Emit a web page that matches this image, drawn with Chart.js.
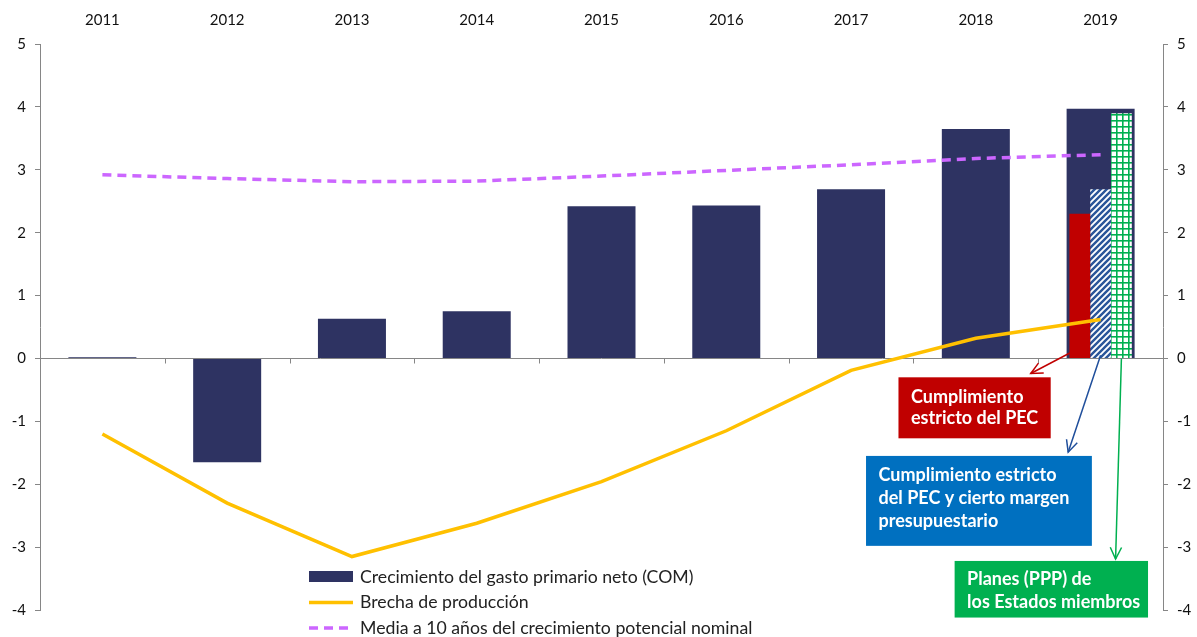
<!DOCTYPE html>
<html><head><meta charset="utf-8">
<script src="https://cdn.jsdelivr.net/npm/chart.js@4.4.1/dist/chart.umd.min.js"></script>
<style>html,body{margin:0;padding:0;background:#fff}</style>
</head><body>
<canvas id="c" width="1197" height="637"></canvas>
<script>
// ---- data ----
const years = ['2011','2012','2013','2014','2015','2016','2017','2018','2019'];
const gastoCOM = [0.02, -1.65, 0.63, 0.75, 2.42, 2.43, 2.69, 3.65, 3.97];
const brechaProduccion = [-1.2, -2.3, -3.15, -2.62, -1.96, -1.15, -0.19, 0.32, 0.62];
const mediaPotencial = [2.92, 2.86, 2.81, 2.82, 2.90, 2.99, 3.08, 3.18, 3.24];
const pecEstricto = [null, null, null, null, null, null, null, null, 2.30];
const pecMargen = [null, null, null, null, null, null, null, null, 2.69];
const planesPPP = [null, null, null, null, null, null, null, null, 3.90];
const yMin = -4, yMax = 5, yStep = 1;

const labelsLegend = ['Crecimiento del gasto primario neto (COM)', 'Brecha de producción', 'Media a 10 años del crecimiento potencial nominal'];
const boxTexts = [
  ['Cumplimiento', 'estricto del PEC'],
  ['Cumplimiento estricto', 'del PEC y cierto margen', 'presupuestario'],
  ['Planes (PPP) de', 'los Estados miembros']
];

// ---- styles ----
const FONT = 'Lato, "Open Sans", sans-serif';
const NAVY = '#2E3362', YELLOW = '#FFC000', PINK = '#CC66FF', RED = '#C00000', BLUE = '#0070C0', GREEN = '#00B050', AXIS = '#868686';

const canvas = document.getElementById('c');
const ctx0 = canvas.getContext('2d');
function hatchPattern() {
  const c = document.createElement('canvas'); c.width = 6; c.height = 6;
  const g = c.getContext('2d');
  g.fillStyle = '#fff'; g.fillRect(0, 0, 6, 6);
  g.strokeStyle = '#2A5599'; g.lineWidth = 2.4;
  g.beginPath();
  g.moveTo(-1, 7); g.lineTo(7, -1);
  g.moveTo(-4, 4); g.lineTo(4, -4);
  g.moveTo(2, 10); g.lineTo(10, 2);
  g.stroke();
  return ctx0.createPattern(c, 'repeat');
}
function gridPattern() {
  const c = document.createElement('canvas'); c.width = 6; c.height = 6;
  const g = c.getContext('2d');
  g.fillStyle = '#fff'; g.fillRect(0, 0, 6, 6);
  g.fillStyle = GREEN;
  g.fillRect(0, 0, 6, 1.6);
  g.fillRect(0, 0, 1.6, 6);
  return ctx0.createPattern(c, 'repeat');
}

// annotation boxes in data units (x: category index, y: value)
const boxes = [
  {x0: 6.38, x1: 7.60, y0: -0.30, y1: -1.27, color: RED, tx: 6.48, ty: [-0.61, -0.95]},
  {x0: 6.12, x1: 7.93, y0: -1.55, y1: -2.98, color: BLUE, tx: 6.22, ty: [-1.86, -2.22, -2.58]},
  {x0: 6.83, x1: 8.38, y0: -3.22, y1: -4.12, color: GREEN, tx: 6.93, ty: [-3.51, -3.87]}
];
const arrows = [
  {ds: 3, y0: 0.17, x1: 7.44, y1: -0.24, color: RED},
  {ds: 4, y0: 0.05, x1: 7.74, y1: -1.49, color: '#1F4E9B'},
  {ds: 5, y0: 0.0, x1: 8.12, y1: -3.19, color: GREEN}
];

function arrow(ctx, x0, y0, x1, y1, color) {
  ctx.save();
  ctx.strokeStyle = color; ctx.lineWidth = 1.5;
  ctx.beginPath(); ctx.moveTo(x0, y0); ctx.lineTo(x1, y1); ctx.stroke();
  const a = Math.atan2(y1 - y0, x1 - x0), L = 13, w = 0.45;
  ctx.beginPath();
  ctx.moveTo(x1 - L * Math.cos(a - w), y1 - L * Math.sin(a - w));
  ctx.lineTo(x1, y1);
  ctx.lineTo(x1 - L * Math.cos(a + w), y1 - L * Math.sin(a + w));
  ctx.stroke();
  ctx.restore();
}

const decor = {
  id: 'decor',
  beforeDatasetsDraw(chart) {
    const {ctx, chartArea: ca, scales: {x, y}} = chart;
    const y0 = Math.round(y.getPixelForValue(0)) + 0.5;
    ctx.save();
    ctx.strokeStyle = AXIS; ctx.lineWidth = 1;
    ctx.beginPath(); ctx.moveTo(ca.left, y0); ctx.lineTo(ca.right, y0);
    for (let i = 1; i < years.length; i++) {
      const px = Math.round(x.getPixelForValue(i - 0.5)) + 0.5;
      ctx.moveTo(px, y0); ctx.lineTo(px, y0 + 5);
    }
    ctx.stroke();
    ctx.restore();
  },
  afterDraw(chart) {
    const {ctx, chartArea: ca, scales: {x, y}} = chart;
    // boxes
    boxes.forEach((b, i) => {
      const l = x.getPixelForValue(b.x0), r = x.getPixelForValue(b.x1);
      const t = y.getPixelForValue(b.y0), bt = y.getPixelForValue(b.y1);
      ctx.fillStyle = b.color; ctx.fillRect(l, t, r - l, bt - t);
      ctx.fillStyle = '#fff'; ctx.font = 'bold 18px ' + FONT;
      ctx.textBaseline = 'middle'; ctx.textAlign = 'left';
      boxTexts[i].forEach((s, k) => ctx.fillText(s, x.getPixelForValue(b.tx), y.getPixelForValue(b.ty[k])));
    });
    // arrows
    arrows.forEach(a => {
      const el = chart.getDatasetMeta(a.ds).data[8];
      arrow(ctx, el.x, y.getPixelForValue(a.y0), x.getPixelForValue(a.x1), y.getPixelForValue(a.y1), a.color);
    });
    // legend
    const lx = ca.left + 269, ly = ca.bottom - 33, dy = 25.5;
    ctx.font = '17.7px ' + FONT; ctx.textBaseline = 'middle'; ctx.textAlign = 'left';
    [0, 1, 2].forEach((di, k) => {
      const ds = chart.data.datasets[di];
      const cy = ly + k * dy;
      if (di === 0) { ctx.fillStyle = ds.backgroundColor; ctx.fillRect(lx, cy - 6, 44, 11); }
      else {
        ctx.save(); ctx.strokeStyle = ds.borderColor; ctx.lineWidth = 3.5;
        ctx.setLineDash(ds.borderDash || []);
        ctx.beginPath(); ctx.moveTo(lx, cy); ctx.lineTo(lx + 44, cy); ctx.stroke(); ctx.restore();
      }
      ctx.fillStyle = '#222';
      ctx.fillText(labelsLegend[di], lx + 51, cy);
    });
  }
};

const tickFont = {family: FONT, size: 15};
const yCommon = {
  min: yMin, max: yMax,
  ticks: {stepSize: yStep, color: '#111', font: tickFont, padding: 9},
  grid: {drawOnChartArea: false, drawTicks: true, tickLength: 5, color: AXIS},
  border: {color: AXIS}
};
const subBar = {xAxisID: 'x', yAxisID: 'y', categoryPercentage: 0.5, barPercentage: 1, order: 1};

new Chart(canvas, {
  data: {
    labels: years,
    datasets: [
      {type: 'bar', label: labelsLegend[0], data: gastoCOM, backgroundColor: NAVY, xAxisID: 'x', yAxisID: 'y',
       grouped: false, categoryPercentage: 1, barPercentage: 0.545, order: 2},
      {type: 'line', label: labelsLegend[1], data: brechaProduccion, borderColor: YELLOW, borderWidth: 3.5,
       pointRadius: 0, tension: 0, xAxisID: 'x', yAxisID: 'y', order: 0},
      {type: 'line', label: labelsLegend[2], data: mediaPotencial, borderColor: PINK, borderWidth: 3.5,
       borderDash: [9, 6], pointRadius: 0, tension: 0, xAxisID: 'x', yAxisID: 'y', order: 0},
      Object.assign({type: 'bar', label: 'Cumplimiento estricto del PEC', data: pecEstricto, backgroundColor: RED}, subBar),
      Object.assign({type: 'bar', label: 'Cumplimiento estricto del PEC y cierto margen presupuestario', data: pecMargen, backgroundColor: hatchPattern()}, subBar),
      Object.assign({type: 'bar', label: 'Planes (PPP) de los Estados miembros', data: planesPPP, backgroundColor: gridPattern()}, subBar)
    ]
  },
  options: {
    responsive: false, animation: false, devicePixelRatio: 1,
    layout: {padding: {bottom: 27, left: 0, right: 0, top: 0}},
    plugins: {legend: {display: false}, tooltip: {enabled: false}},
    scales: {
      x: {type: 'category', position: 'top', offset: true,
          grid: {display: false}, border: {display: false},
          ticks: {color: '#111', font: tickFont, padding: 7, maxRotation: 0},
          afterFit: s => { s.height = 44; }},
      y: Object.assign({position: 'left', afterFit: s => { s.width = 40; }}, yCommon),
      y2: Object.assign({position: 'right', afterFit: s => { s.width = 34; }}, yCommon)
    }
  },
  plugins: [decor]
});
</script>
</body></html>
